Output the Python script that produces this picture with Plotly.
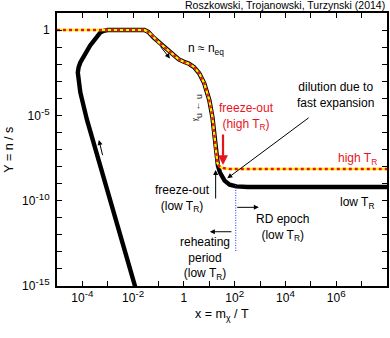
import plotly.graph_objects as go

# ---------------- data ----------------
# high-T_R solution (follows equilibrium, then freezes out)
eq_x = [1e-5, 2.8e-2, 4.0e-2, 6.3e-2, 0.1, 0.158, 0.251, 0.398, 0.631, 1.0, 1.585,
        2.51, 3.98, 6.31, 10.0, 13.2, 15.5, 17.8, 20.9, 26.3, 38.0, 63.0, 1e8]
eq_y = [1.0, 1.0, 0.76, 0.37, 0.20, 0.112, 0.060, 0.0316, 0.019, 0.0138, 0.0105,
        6.8e-3, 2.95e-3, 7.6e-4, 7.9e-5, 8.3e-6, 8.9e-7, 9.3e-8, 1.58e-8, 9.5e-9,
        7.9e-9, 7.2e-9, 7.2e-9]

# low-T_R solution: rise during reheating, then joins equilibrium, then tail
rise_x = [1.41e-2, 4.2e-3, 1.26e-3, 4.4e-4, 1.5e-4, 8.3e-5, 6.6e-5, 7.1e-5, 8.3e-5,
          2.0e-4, 5.1e-4, 6.9e-4, 1.0e-3]
rise_y = [4e-16, 2.0e-13, 1.15e-10, 2.6e-8, 5.8e-6, 2.2e-4, 3.2e-3, 6.5e-3, 1.26e-2,
          0.12, 0.72, 0.90, 1.0]
tail_x = [21.9, 26.3, 31.6, 39.8, 63.1, 117.0, 316.0, 1e8]
tail_y = [1.12e-8, 4.5e-9, 2.5e-9, 1.5e-9, 8.7e-10, 6.9e-10, 6.3e-10, 6.3e-10]

# end of reheating (low T_R), blue dotted marker
reh_x = [110.0, 110.0]
reh_y = [8.3e-10, 9.8e-14]

SUP = "<sup><span style='font-size:9.8px'>{}</span></sup>"
x_tickvals = [10.0 ** k for k in range(-5, 9)]
x_ticktext = ["", "10" + SUP.format("-4"), "", "10" + SUP.format("-2"), "", "1", "",
              "10" + SUP.format("2"), "", "10" + SUP.format("4"), "",
              "10" + SUP.format("6"), "", ""]
y_tickvals = [10.0 ** k for k in range(-15, 2)]
y_ticktext = ["10" + SUP.format("-15"), "", "", "", "", "10" + SUP.format("-10"),
              "", "", "", "", "10" + SUP.format("-5"), "", "", "", "", "1", ""]

# ---------------- figure ----------------
n_join = 17  # number of equilibrium points shared by the low-T_R curve (up to x~18)
low_x = rise_x + eq_x[1:n_join + 1] + tail_x
low_y = rise_y + eq_y[1:n_join + 1] + tail_y

FONT = "Liberation Sans, Arial, Helvetica, sans-serif"
fig = go.Figure()
fig.add_trace(go.Scatter(x=low_x, y=low_y, mode="lines",
                         line=dict(color="black", width=4.4), hoverinfo="skip"))
fig.add_trace(go.Scatter(x=eq_x, y=eq_y, mode="lines",
                         line=dict(color="#ffee00", width=2.4), hoverinfo="skip"))
fig.add_trace(go.Scatter(x=eq_x, y=eq_y, mode="lines",
                         line=dict(color="#e8141b", width=2.4, dash="3px,3px"),
                         hoverinfo="skip"))
fig.add_trace(go.Scatter(x=reh_x, y=reh_y, mode="lines",
                         line=dict(color="#2030ff", width=1, dash="1px,1.5px"),
                         hoverinfo="skip"))

ann = []


def txt(x, y, s, color="black", size=12, angle=0, xa="center"):
    ann.append(dict(x=x, y=y, xref="x", yref="y", text=s, showarrow=False,
                    font=dict(family=FONT, size=size, color=color),
                    textangle=angle, xanchor=xa, yanchor="middle"))


def arr(x0, y0, x1, y1, color="black", w=1, head=2, size=1.0):
    ann.append(dict(x=x1, y=y1, ax=x0, ay=y0, xref="x", yref="y", axref="x", ayref="y",
                    text="", showarrow=True, arrowhead=head, arrowsize=size,
                    arrowwidth=w, arrowcolor=color, standoff=0, startstandoff=0))


txt(0.87, -1.11, "n ≈ n<sub>eq</sub>")
txt(0.6, -4.57, "n → n<sub>χ</sub>", size=9, angle=90)
txt(2.48, -5.07, "freeze-out<br>(high T<sub>R</sub>)", color="#e8141b")
txt(5.96, -3.81, "dilution due to<br>fast expansion")
txt(6.82, -7.56, "high T<sub>R</sub>", color="#e8141b")
txt(6.82, -10.14, "low T<sub>R</sub>")
txt(-0.07, -9.9, "freeze-out<br>(low T<sub>R</sub>)")
txt(3.89, -11.6, "RD epoch<br>(low T<sub>R</sub>)")
txt(0.83, -13.4, "reheating<br>period<br>(low T<sub>R</sub>)")

arr(-0.97, -0.88, -0.55, -1.66)
arr(-3.19, -7.42, -3.35, -6.44)
arr(1.54, -6.03, 1.54, -7.91, color="#e8141b", w=2.2, size=0.9)
arr(4.97, -5.08, 1.71, -8.69)
arr(1.25, -9.96, 1.25, -8.2)
arr(2.04, -10.39, 2.95, -10.39)
arr(1.93, -11.82, 1.02, -11.82)

ann.append(dict(x=1.0, y=1.029, xref="paper", yref="paper", showarrow=False,
                text="Roszkowski, Trojanowski, Turzynski (2014)",
                font=dict(family=FONT, size=10.5, color="black"),
                xanchor="right", yanchor="middle"))
ann.append(dict(x=-0.148, y=0.5, xref="paper", yref="paper", showarrow=False,
                text="Y = n / s", textangle=-90,
                font=dict(family=FONT, size=12.5, color="black"),
                xanchor="center", yanchor="middle"))
ann.append(dict(x=0.5, y=-0.106, xref="paper", yref="paper", showarrow=False,
                text="x = m<sub>χ</sub> / T",
                font=dict(family=FONT, size=12.5, color="black"),
                xanchor="center", yanchor="middle"))

axis_common = dict(showline=True, linecolor="black", linewidth=2, mirror="ticks",
                   ticks="inside", ticklen=5, tickwidth=1, tickcolor="black",
                   showgrid=False, zeroline=False,
                   tickfont=dict(family=FONT, size=12, color="black"))

fig.update_layout(
    width=390, height=338,
    margin=dict(l=57, r=1, t=13, b=52),
    paper_bgcolor="white", plot_bgcolor="white",
    showlegend=False,
    annotations=ann,
    xaxis=dict(type="log", range=[-5, 8], tickmode="array", tickvals=x_tickvals,
               ticktext=x_ticktext, **axis_common),
    yaxis=dict(type="log", range=[-15, 1], tickmode="array", tickvals=y_tickvals,
               ticktext=y_ticktext, ticklabelstandoff=3, **axis_common),
)

fig.write_html("out.html",
               config={"displayModeBar": False, "staticPlot": True},
               post_script="document.body.style.margin='0px';"
                           "document.body.style.padding='0px';"
                           "document.body.style.overflow='hidden';")
